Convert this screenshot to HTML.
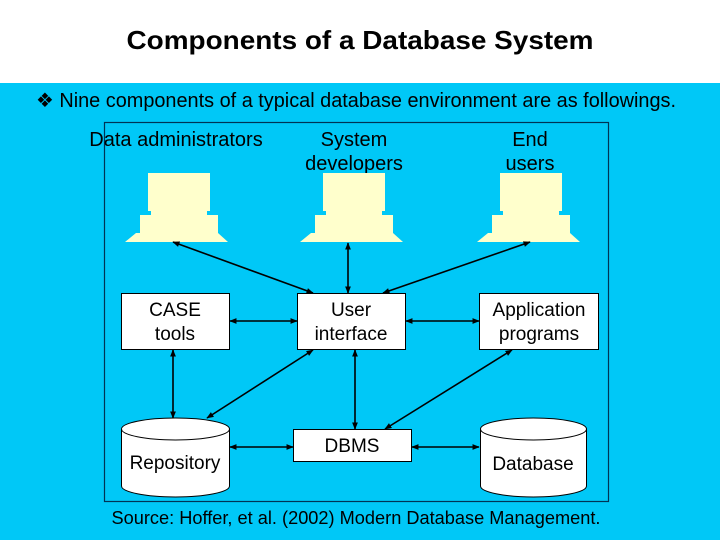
<!DOCTYPE html>
<html><head><meta charset="utf-8"><style>
html,body{margin:0;padding:0;background:#fff}
svg{display:block}
text{font-family:"Liberation Sans",Arial,sans-serif}
</style></head><body>
<svg width="720" height="540" viewBox="0 0 720 540" xmlns="http://www.w3.org/2000/svg">
<defs>
<marker id="a" viewBox="0 0 10 10" refX="9" refY="5" markerWidth="4.5" markerHeight="4.5" orient="auto-start-reverse"><path d="M0,1 L10,5 L0,9 z" fill="#000"/></marker>
<g id="pc">
<polygon fill="#FFFFCC" points="0,0 62,0 62,38 59,38 59,42 70,42 70,60 80,69 -23,69 -12,60 -8,60 -8,42 3,42 3,38 0,38"/>
</g>
</defs>
<rect x="0" y="0" width="720" height="83" fill="#fff"/>
<rect x="0" y="83" width="720" height="457" fill="#00C8F7"/>
<text x="360" y="49" font-size="26" font-weight="bold" text-anchor="middle" fill="#000" textLength="467" lengthAdjust="spacingAndGlyphs">Components of a Database System</text>
<text x="36" y="107" font-size="20" fill="#000" textLength="640" lengthAdjust="spacingAndGlyphs">❖ Nine components of a typical database environment are as followings.</text>
<rect x="104.5" y="122.5" width="504" height="379" fill="none" stroke="#003355" stroke-width="1.2"/>
<g font-size="20" fill="#000" text-anchor="middle">
<text x="176" y="146">Data administrators</text>
<text x="354" y="146">System</text><text x="354" y="170">developers</text>
<text x="530" y="146">End</text><text x="530" y="170">users</text>
</g>
<use href="#pc" x="148" y="173"/>
<use href="#pc" x="323" y="173"/>
<use href="#pc" x="500" y="173"/>
<g fill="#fff" stroke="#000" stroke-width="1">
<rect x="121.5" y="293.5" width="108" height="56"/>
<rect x="297.5" y="293.5" width="108" height="56"/>
<rect x="479.5" y="293.5" width="119" height="56"/>
<rect x="293.5" y="429.5" width="118" height="32"/>
<path d="M121.5,429 L121.5,486 A54,11 0 0 0 229.5,486 L229.5,429 A54,11 0 0 0 121.5,429 A54,11 0 0 0 229.5,429"/>
<path d="M480.5,429 L480.5,486 A53,11 0 0 0 586.5,486 L586.5,429 A53,11 0 0 0 480.5,429 A53,11 0 0 0 586.5,429"/>
</g>
<g font-size="19" fill="#000" text-anchor="middle">
<text x="175" y="316">CASE</text><text x="175" y="340">tools</text>
<text x="351" y="316">User</text><text x="351" y="340">interface</text>
<text x="539" y="316">Application</text><text x="539" y="340">programs</text>
<text x="352" y="452">DBMS</text>
<text x="175" y="469">Repository</text>
<text x="533" y="470">Database</text>
</g>
<g stroke="#000" stroke-width="1.6" marker-start="url(#a)" marker-end="url(#a)" fill="none">
<line x1="173" y1="242" x2="313" y2="293"/>
<line x1="348" y1="243" x2="348" y2="293"/>
<line x1="530" y1="242" x2="383" y2="293"/>
<line x1="230" y1="321" x2="297" y2="321"/>
<line x1="406" y1="321" x2="479" y2="321"/>
<line x1="173" y1="350" x2="173" y2="418"/>
<line x1="313" y1="350" x2="207" y2="418"/>
<line x1="355" y1="350" x2="355" y2="429"/>
<line x1="512" y1="350" x2="385" y2="429"/>
<line x1="230" y1="447" x2="293" y2="447"/>
<line x1="412" y1="447" x2="479" y2="447"/>
</g>
<text x="356" y="524" font-size="18" text-anchor="middle" fill="#000" textLength="489" lengthAdjust="spacingAndGlyphs">Source: Hoffer, et al. (2002)  Modern Database Management.</text>
</svg>
</body></html>
